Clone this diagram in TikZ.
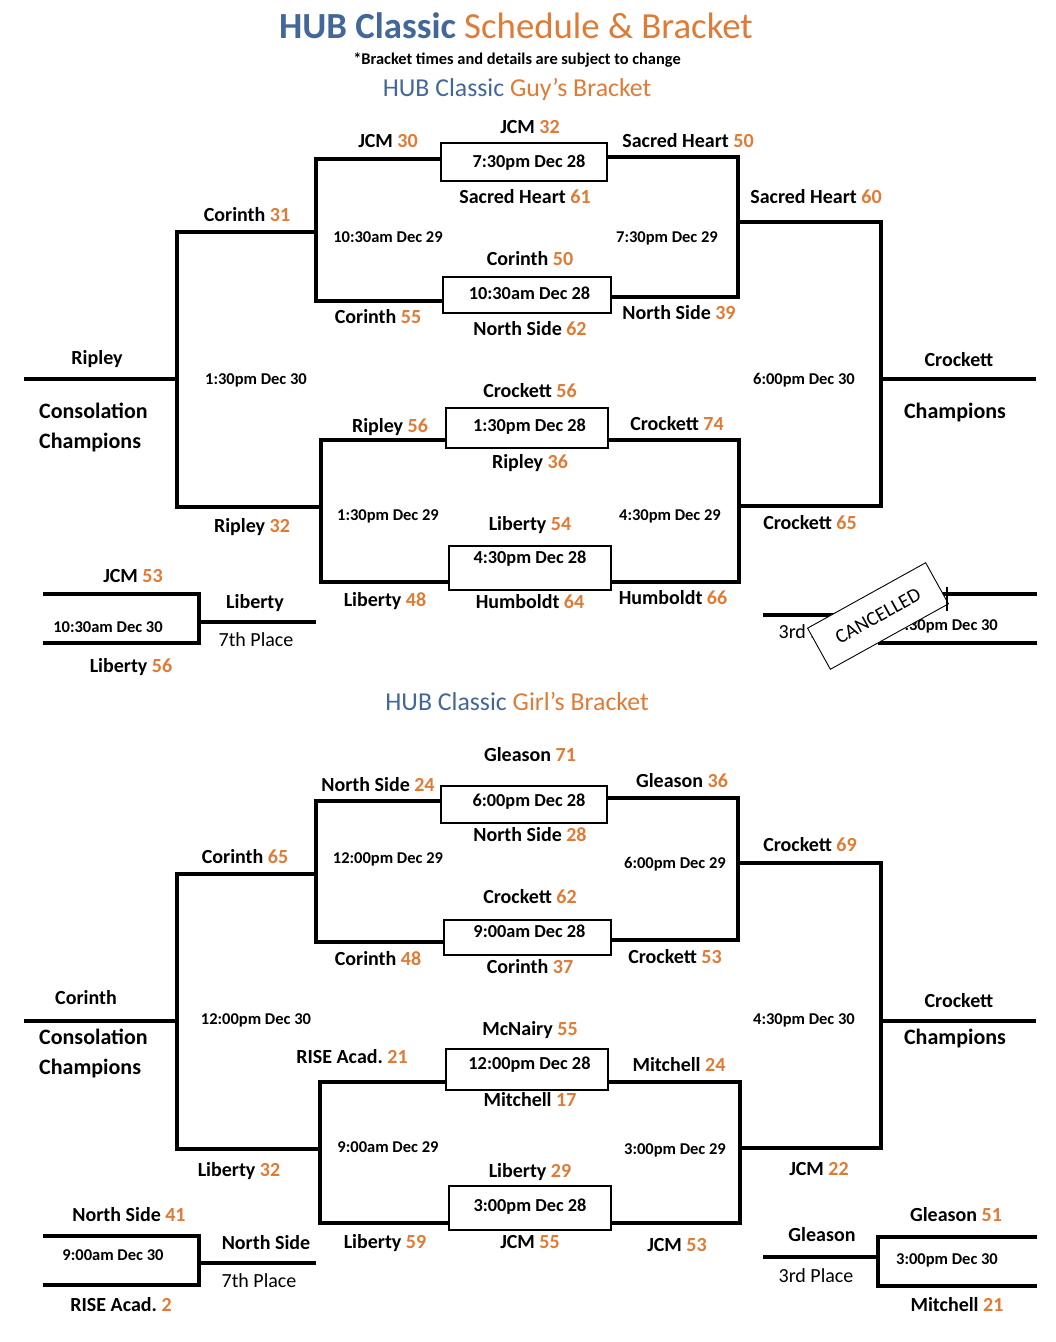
\documentclass[tikz,border=0pt]{standalone}
\usepackage{fontspec}
\setmainfont{Carlito}
\definecolor{hubblue}{HTML}{44679A}
\definecolor{hubor}{HTML}{E07B36}
\newcommand{\hubn}[1]{\textcolor{hubor}{#1}}
\frenchspacing
\begin{document}
\begin{tikzpicture}[x=1pt,y=-1pt,
 bl/.style={line width=3.6pt, line join=miter},
 gbox/.style={draw, line width=1.6pt, inner sep=0pt, font=\fontsize{18.3}{20}\selectfont\bfseries, text height=11.6pt},
 team/.style={inner sep=0pt, font=\fontsize{20}{24}\selectfont\bfseries, text height=12.8pt, text depth=0pt},
 tm/.style={inner sep=0pt, font=\fontsize{16.5}{18}\selectfont\bfseries, text height=10.5pt, text depth=0pt},
 big/.style={inner sep=0pt, anchor=west, font=\fontsize{22}{26}\selectfont\bfseries, text height=14pt, text depth=0pt},
 reg/.style={inner sep=0pt, font=\fontsize{20}{24}\selectfont, text height=12.8pt, text depth=0pt},
]
\useasboundingbox[fill=white] (0,0) rectangle (1056,1342);

% ---------- titles ----------
\node[inner sep=0pt, font=\fontsize{36.8}{40}\selectfont, text height=23pt, text depth=0pt] (title) at (516,27)
  {\textcolor{hubblue}{\bfseries HUB Classic} \textcolor{hubor}{Schedule \& Bracket}};
\node[inner sep=0pt, font=\fontsize{16.4}{18}\selectfont\bfseries, text height=10pt, text depth=0pt] (sub) at (517,59)
  {*Bracket times and details are subject to change};
\node[inner sep=0pt, font=\fontsize{25.8}{28}\selectfont, text height=16pt, text depth=0pt] (guyt) at (517,88)
  {\textcolor{hubblue}{HUB Classic} \textcolor{hubor}{Guy’s Bracket}};
\node[inner sep=0pt, font=\fontsize{25.8}{28}\selectfont, text height=16pt, text depth=0pt] (girlt) at (517,702)
  {\textcolor{hubblue}{HUB Classic} \textcolor{hubor}{Girl’s Bracket}};

% ================= GUYS =================
\node[gbox, minimum width=166pt, minimum height=38pt, text depth=0pt] (g1) at (524,162) {\hspace{10pt}7:30pm Dec 28};
\node[gbox, minimum width=168pt, minimum height=36pt, text depth=2pt] (g2) at (527,295) {\hspace{5pt}10:30am Dec 28};
\node[gbox, minimum width=162pt, minimum height=40pt, text depth=4pt] (g3) at (527,428) {\hspace{5pt}1:30pm Dec 28};
\node[gbox, minimum width=162pt, minimum height=44pt, text depth=20pt] (g4) at (530,568) {4:30pm Dec 28};

\draw[bl] ([yshift=3pt]g1.west) -- (316,159) -- (316,301) -- ([yshift=-6pt]g2.west);
\draw[bl] ([yshift=5pt]g1.east) -- (738,157) -- (738,297) -- ([yshift=-2pt]g2.east);
\draw[bl] ([yshift=-12pt]g3.west) -- (321,440) -- (321,582) -- ([yshift=-14pt]g4.west);
\draw[bl] ([yshift=-12pt]g3.east) -- (739,440) -- (739,582) -- ([yshift=-14pt]g4.east);

\coordinate (gLa) at (316,232);
\coordinate (gLb) at (321,507);
\coordinate (gLw) at (24,379);
\draw[bl] (gLa) -- (177,232) -- (177,507) -- (gLb);
\draw[bl] (177,379) -- (gLw);

\coordinate (gRa) at (738,222);
\coordinate (gRb) at (739,506);
\coordinate (gRw) at (1036,379);
\draw[bl] (gRa) -- (881,222) -- (881,506) -- (gRb);
\draw[bl] (881,379) -- (gRw);

% 7th place guys
\coordinate (g7a) at (43,594);
\coordinate (g7b) at (43,643);
\coordinate (g7w) at (316,622);
\draw[bl] (g7a) -- (199,594) -- (199,643) -- (g7b);
\draw[bl] (199,622) -- (g7w);

% 3rd place guys (cancelled)
\coordinate (g3w) at (763,615);
\coordinate (g3a) at (1037,594);
\coordinate (g3b) at (1037,643);
\draw[bl] (g3w) -- (880,615);
\draw[bl] (g3a) -- (880,594) -- (880,643) -- (g3b);
\node[tm] (g3t) at (947,625) {4:30pm Dec 30};
\node[reg] (g3p) at (816,632) {3rd Place};

% labels guys
\node[team] (l1) at (530,127) {JCM \hubn{32}};
\node[team] (l2) at (388,141) {JCM \hubn{30}};
\node[team] (l3) at (688,141) {Sacred Heart \hubn{50}};
\node[team] (l4) at (525,197) {Sacred Heart \hubn{61}};
\node[team] (l5) at (530,259) {Corinth \hubn{50}};
\node[team] (l6) at (378,317) {Corinth \hubn{55}};
\node[team] (l7) at (530,329) {North Side \hubn{62}};
\node[team] (l8) at (679,313) {North Side \hubn{39}};
\node[team] (l9) at (247,215) {Corinth \hubn{31}};
\node[team] (l10) at (252,526) {Ripley \hubn{32}};
\node[team] (l11) at (816,197) {Sacred Heart \hubn{60}};
\node[team] (l12) at (810,523) {Crockett \hubn{65}};
\node[team] (l13) at (97,358) {Ripley};
\node[team] (l14) at (959,360) {Crockett};
\node[team] (l15) at (530,391) {Crockett \hubn{56}};
\node[team] (l16) at (390,426) {Ripley \hubn{56}};
\node[team] (l17) at (677,424) {Crockett \hubn{74}};
\node[team] (l18) at (530,462) {Ripley \hubn{36}};
\node[team] (l19) at (530,524) {Liberty \hubn{54}};
\node[team] (l20) at (385,600) {Liberty \hubn{48}};
\node[team] (l21) at (530,602) {Humboldt \hubn{64}};
\node[team] (l22) at (673,598) {Humboldt \hubn{66}};
\node[team] (l23) at (133,576) {JCM \hubn{53}};
\node[team] (l24) at (131,666) {Liberty \hubn{56}};
\node[team] (l25) at (255,602) {Liberty};
\node[big] (l26) at (39,411) {Consolation};
\node[big] (l27) at (39,441) {Champions};
\node[big, anchor=center] (l28) at (955,411) {Champions};
\node[reg] (l29) at (256,640) {7th Place};

\node[tm] (t1) at (388,237) {10:30am Dec 29};
\node[tm] (t2) at (667,237) {7:30pm Dec 29};
\node[tm] (t3) at (256,379) {1:30pm Dec 30};
\node[tm] (t4) at (804,379) {6:00pm Dec 30};
\node[tm] (t5) at (388,515) {1:30pm Dec 29};
\node[tm] (t6) at (670,515) {4:30pm Dec 29};
\node[tm] (t7) at (108,627) {10:30am Dec 30};

% cancelled stamp
\node[draw, fill=white, line width=0.9pt, rotate=29, minimum width=135pt, minimum height=47pt,
  inner sep=0pt, font=\fontsize{20}{24}\selectfont, text height=12.8pt, text depth=0pt] (cancel) at (878,616) {CANCELLED};
\draw[line width=1.8pt] (947,587) -- (947,611);

% ================= GIRLS =================
\node[gbox, minimum width=166pt, minimum height=37pt, text depth=7pt] (h1) at (524,804.5) {\hspace{10pt}6:00pm Dec 28};
\node[gbox, minimum width=167pt, minimum height=35pt, text depth=11pt] (h2) at (527.5,937.5) {\hspace{4pt}9:00am Dec 28};
\node[gbox, minimum width=162pt, minimum height=41pt, text depth=11pt] (h3) at (527,1069.5) {\hspace{5pt}12:00pm Dec 28};
\node[gbox, minimum width=162pt, minimum height=44pt, text depth=4pt] (h4) at (530,1208) {3:00pm Dec 28};

\draw[bl] ([yshift=3.5pt]h1.west) -- (316,801) -- (316,942) -- ([yshift=-4.5pt]h2.west);
\draw[bl] ([yshift=6.5pt]h1.east) -- (738,798) -- (738,940) -- ([yshift=-2.5pt]h2.east);
\draw[bl] ([yshift=-12.5pt]h3.west) -- (320,1082) -- (320,1223) -- ([yshift=-15pt]h4.west);
\draw[bl] ([yshift=-12.5pt]h3.east) -- (740,1082) -- (740,1223) -- ([yshift=-15pt]h4.east);

\coordinate (hLa) at (316,874);
\coordinate (hLb) at (320,1149);
\coordinate (hLw) at (24,1021);
\draw[bl] (hLa) -- (177,874) -- (177,1149) -- (hLb);
\draw[bl] (177,1021) -- (hLw);

\coordinate (hRa) at (738,863);
\coordinate (hRb) at (740,1148);
\coordinate (hRw) at (1036,1021);
\draw[bl] (hRa) -- (881,863) -- (881,1148) -- (hRb);
\draw[bl] (881,1021) -- (hRw);

\coordinate (h7a) at (43,1236);
\coordinate (h7b) at (43,1285);
\coordinate (h7w) at (316,1263);
\draw[bl] (h7a) -- (199,1236) -- (199,1285) -- (h7b);
\draw[bl] (199,1263) -- (h7w);

\coordinate (h3w) at (763,1257);
\coordinate (h3a) at (1037,1237);
\coordinate (h3b) at (1037,1286);
\draw[bl] (h3w) -- (878,1257);
\draw[bl] (h3a) -- (878,1237) -- (878,1286) -- (h3b);

% labels girls
\node[team] (m1) at (530,755) {Gleason \hubn{71}};
\node[team] (m2) at (378,785) {North Side \hubn{24}};
\node[team] (m3) at (682,781) {Gleason \hubn{36}};
\node[team] (m4) at (530,835) {North Side \hubn{28}};
\node[team] (m5) at (530,897) {Crockett \hubn{62}};
\node[team] (m6) at (378,959) {Corinth \hubn{48}};
\node[team] (m7) at (530,967) {Corinth \hubn{37}};
\node[team] (m8) at (675,957) {Crockett \hubn{53}};
\node[team] (m9) at (245,857) {Corinth \hubn{65}};
\node[team] (m10) at (239,1170) {Liberty \hubn{32}};
\node[team] (m11) at (810,845) {Crockett \hubn{69}};
\node[team] (m12) at (819,1169) {JCM \hubn{22}};
\node[team] (m13) at (86,998) {Corinth};
\node[team] (m14) at (959,1001) {Crockett};
\node[big] (m15) at (39,1037) {Consolation};
\node[big] (m16) at (39,1067) {Champions};
\node[big, anchor=center] (m17) at (955,1037) {Champions};
\node[team] (m18) at (530,1029) {McNairy \hubn{55}};
\node[team] (m19) at (352,1057) {RISE Acad. \hubn{21}};
\node[team] (m20) at (679,1065) {Mitchell \hubn{24}};
\node[team] (m21) at (530,1100) {Mitchell \hubn{17}};
\node[team] (m22) at (530,1171) {Liberty \hubn{29}};
\node[team] (m23) at (385,1242) {Liberty \hubn{59}};
\node[team] (m24) at (530,1242) {JCM \hubn{55}};
\node[team] (m25) at (677,1245) {JCM \hubn{53}};
\node[team] (m26) at (129,1215) {North Side \hubn{41}};
\node[team] (m27) at (121,1305) {RISE Acad. \hubn{2}};
\node[team] (m28) at (266,1243) {North Side};
\node[team] (m29) at (956,1215) {Gleason \hubn{51}};
\node[team] (m30) at (957,1305) {Mitchell \hubn{21}};
\node[team] (m31) at (822,1235) {Gleason};
\node[reg] (m32) at (259,1281) {7th Place};
\node[reg] (m33) at (816,1276) {3rd Place};

\node[tm] (u1) at (388,858) {12:00pm Dec 29};
\node[tm] (u2) at (675,863) {6:00pm Dec 29};
\node[tm] (u3) at (256,1019) {12:00pm Dec 30};
\node[tm] (u4) at (804,1019) {4:30pm Dec 30};
\node[tm] (u5) at (388,1147) {9:00am Dec 29};
\node[tm] (u6) at (675,1149) {3:00pm Dec 29};
\node[tm] (u7) at (113,1255) {9:00am Dec 30};
\node[tm] (u8) at (947,1259) {3:00pm Dec 30};
\end{tikzpicture}
\end{document}
